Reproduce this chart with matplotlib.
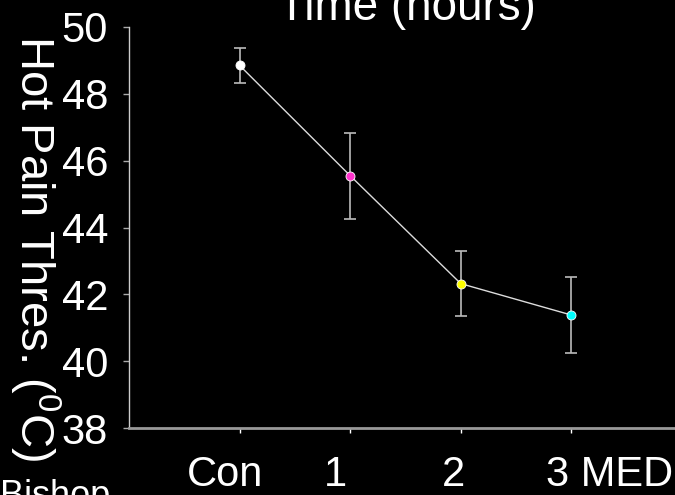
import matplotlib
matplotlib.use("Agg")
import matplotlib.pyplot as plt

categories = ["Con", "1", "2", "3 MED"]
means = [48.85, 45.55, 42.32, 41.38]
errors = [0.52, 1.29, 0.98, 1.13]
colors = ["#ffffff", "#ff33cc", "#ffff00", "#00ffff"]
yticks = [38, 40, 42, 44, 46, 48, 50]

plt.rcParams['font.family'] = ['Liberation Sans', 'DejaVu Sans']
plt.rcParams['mathtext.fontset'] = 'custom'
plt.rcParams['mathtext.rm'] = 'Liberation Sans'

W, H = 675, 495
fig = plt.figure(figsize=(W/100, H/100), dpi=100, facecolor='black')
ax = fig.add_axes([129/W, 67/H, 553/W, 401/H], facecolor='black')

x = list(range(1, len(categories) + 1))
ax.plot(x, means, color='#dddddd', lw=1.0, zorder=2)
ax.errorbar(x, means, yerr=errors, fmt='none', ecolor='#bbbbbb', elinewidth=1.2,
            capsize=4, capthick=1.2, zorder=1)
for xi, m, c in zip(x, means, colors):
    ax.plot([xi], [m], 'o', ms=6.5, mfc=c, mec='#ffffff', mew=0.6, zorder=3)

ax.set_xlim(0, 5)
ax.set_ylim(38, 50)
ax.set_yticks(yticks)
ax.set_xticks(x)
ax.set_xticklabels([])

# x labels, placed slightly off their ticks as in the original slide
label_dx = [-10.8, -10.8, -5.0, 27.4]  # points
for xi, lab, dx in zip(x, categories, label_dx):
    ax.annotate(lab, xy=(xi, 0), xycoords=ax.get_xaxis_transform(),
                xytext=(dx, -19.5), textcoords='offset points',
                ha='center', va='top', fontsize=30, color='white',
                annotation_clip=False)

for s in ['top', 'right']:
    ax.spines[s].set_visible(False)
ax.spines['left'].set_color('#cccccc')
ax.spines['left'].set_linewidth(1.0)
ax.spines['bottom'].set_color('#999999')
ax.spines['bottom'].set_linewidth(2.0)

ax.tick_params(axis='y', colors='#aaaaaa', labelcolor='white', length=4, width=1,
               labelsize=30, pad=11)
ax.tick_params(axis='x', colors='#ffffff', length=3.5, width=1)

fig.text(407/W, 1 - 20/H, "Time (hours)", color='white', fontsize=33,
         ha='center', va='baseline')
fig.text(35/W, 1 - 35/H, r"Hot Pain Thres. ($^{0}$C)", color='white', fontsize=34,
         rotation=-90, ha='center', va='top')
fig.text(0/W, 1 - 479/H, "Bishop", color='white', fontsize=26, ha='left', va='top')

fig.savefig("out.png", dpi=100, facecolor='black')
